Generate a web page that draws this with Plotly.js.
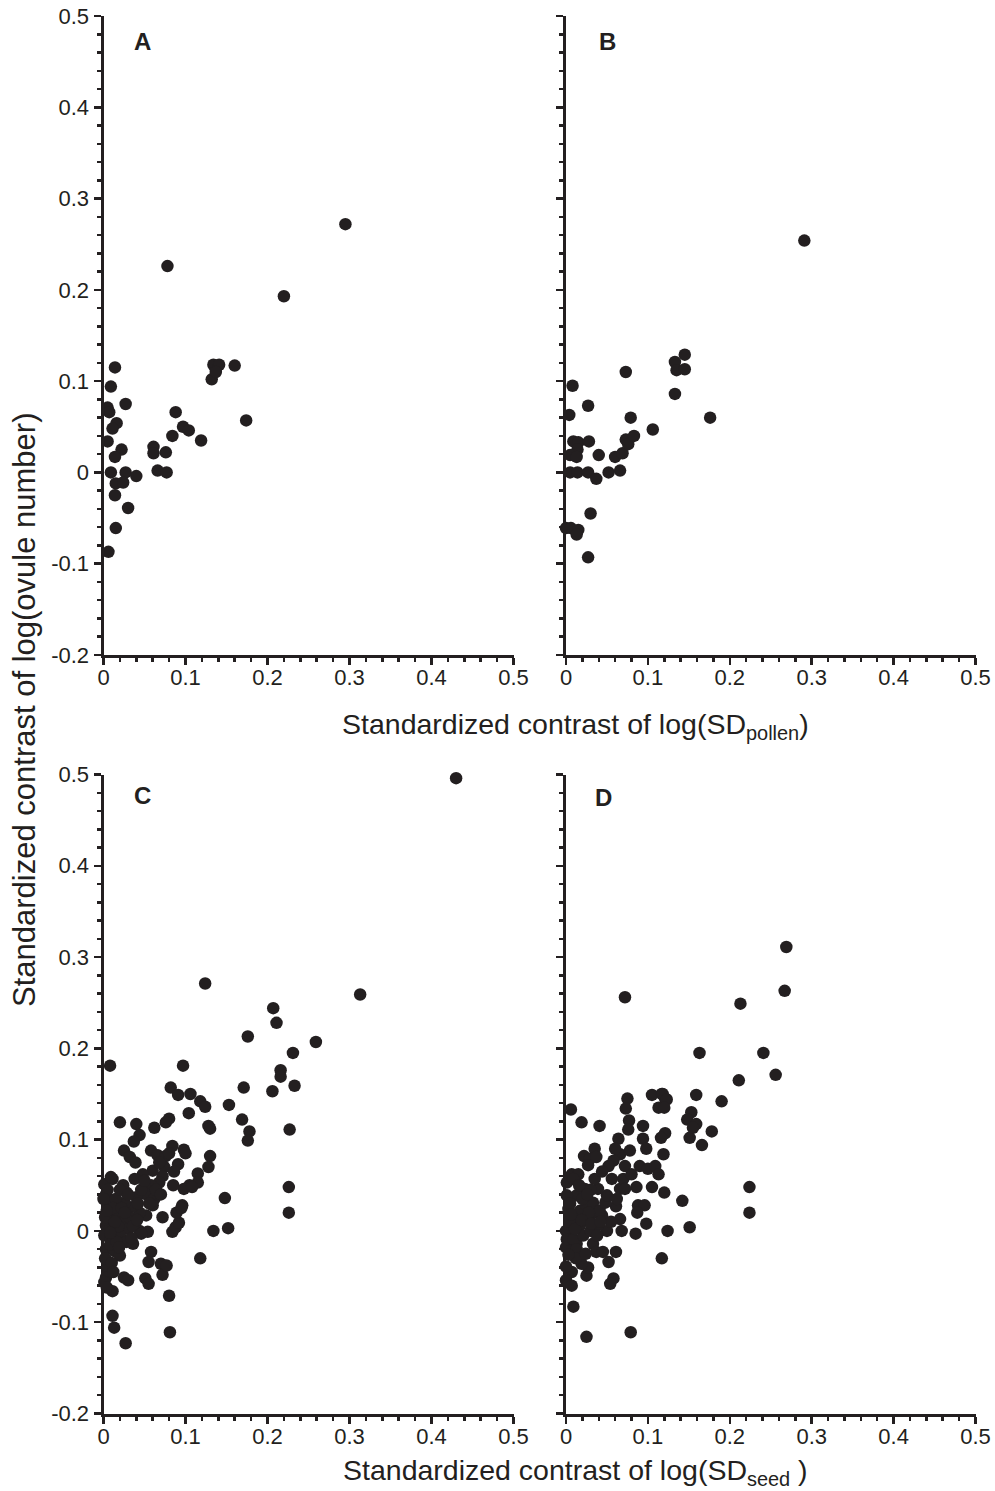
<!DOCTYPE html>
<html>
<head>
<meta charset="utf-8">
<script src="https://cdn.plot.ly/plotly-3.0.1.min.js"></script>
<style>html,body{margin:0;padding:0;background:#fff;}#chart{width:995px;height:1491px;}</style>
</head>
<body>
<div id="chart"></div>
<script>
// ---- Data ----
const panelLabels = ['A', 'B', 'C', 'D'];
const xTickVals = [0, 0.1, 0.2, 0.3, 0.4, 0.5];
const xTickText = ['0', '0.1', '0.2', '0.3', '0.4', '0.5'];
const yTickVals = [-0.2, -0.1, 0, 0.1, 0.2, 0.3, 0.4, 0.5];
const yTickText = ['-0.2', '-0.1', '0', '0.1', '0.2', '0.3', '0.4', '0.5'];
const yTitle = 'Standardized contrast of log(ovule number)';
const xTitleTop = 'Standardized contrast of log(SD<sub>pollen</sub>)';
const xTitleBottom = 'Standardized contrast of log(SD<sub>seed</sub> )';

const aX = [0.014,0.009,0.005,0.007,0.027,0.016,0.011,0.005,0.022,0.014,0.009,0.027,0.040,0.015,0.024,0.014,0.030,0.015,0.006,0.061,0.061,0.066,0.077,0.076,0.084,0.088,0.097,0.104,0.119,0.132,0.134,0.141,0.137,0.160,0.174,0.078,0.220,0.295];
const aY = [0.115,0.094,0.071,0.066,0.075,0.054,0.048,0.034,0.025,0.017,0.000,0.000,-0.004,-0.012,-0.011,-0.025,-0.039,-0.061,-0.087,0.028,0.021,0.002,0.000,0.022,0.040,0.066,0.050,0.046,0.035,0.102,0.118,0.118,0.110,0.117,0.057,0.226,0.193,0.272];

const bX = [0.008,0.027,0.004,0.073,0.079,0.009,0.015,0.028,0.014,0.005,0.013,0.040,0.005,0.014,0.027,0.037,0.052,0.066,0.060,0.069,0.073,0.076,0.083,0.106,0.133,0.133,0.135,0.145,0.145,0.176,0.030,0.000,0.006,0.015,0.013,0.027,0.291];
const bY = [0.095,0.073,0.063,0.110,0.060,0.034,0.033,0.034,0.025,0.019,0.017,0.019,0.000,0.000,0.000,-0.007,0.000,0.002,0.017,0.021,0.036,0.031,0.040,0.047,0.086,0.121,0.112,0.113,0.129,0.060,-0.045,-0.061,-0.061,-0.063,-0.068,-0.093,0.254];

const cX = [0.430,0.313,0.124,0.207,0.211,0.176,0.259,0.231,0.008,0.097,0.216,0.216,0.171,0.233,0.206,0.082,0.091,0.106,0.118,0.124,0.153,0.104,0.169,0.178,0.176,0.227,0.128,0.130,0.080,0.076,0.062,0.040,0.020,0.044,0.037,0.025,0.032,0.039,0.058,0.066,0.084,0.098,0.076,0.091,0.130,0.128,0.115,0.115,0.105,0.098,0.085,0.074,0.072,0.068,0.060,0.048,0.038,0.058,0.052,0.062,0.060,0.052,0.044,0.034,0.026,0.040,0.028,0.024,0.011,0.001,0.003,0.005,0.011,0.017,0.007,0.003,0.013,0.024,0.030,0.001,0.009,0.020,0.028,0.036,0.003,0.013,0.020,0.044,0.054,0.072,0.084,0.088,0.092,0.089,0.096,0.134,0.152,0.148,0.226,0.226,0.118,0.058,0.055,0.070,0.072,0.051,0.055,0.025,0.030,0.005,0.003,0.001,0.011,0.080,0.011,0.013,0.027,0.081,0.009,
  0.005,0.010,0.015,0.020,0.018,0.008,0.002,0.012,0.032,0.036,0.042,0.046,0.050,0.016,0.006,0.002,0.022,0.030,0.064,0.068,0.080,0.086,0.100,0.000,0.004,0.108,0.095,0.077,0.046,0.010,
  0.014,0.026,0.034,0.008,0.019,0.004,0.041,0.056,0.070,0.012];
const cY = [0.496,0.259,0.271,0.244,0.228,0.213,0.207,0.195,0.181,0.181,0.176,0.169,0.157,0.159,0.153,0.157,0.149,0.150,0.142,0.136,0.138,0.129,0.122,0.109,0.099,0.111,0.115,0.112,0.123,0.119,0.113,0.117,0.119,0.105,0.098,0.088,0.081,0.075,0.088,0.083,0.093,0.089,0.082,0.073,0.082,0.070,0.063,0.053,0.050,0.046,0.050,0.070,0.060,0.053,0.066,0.062,0.057,0.050,0.040,0.035,0.028,0.017,0.020,0.026,0.031,0.037,0.042,0.050,0.057,0.051,0.040,0.028,0.022,0.017,0.013,0.006,0.004,0.010,0.002,-0.005,-0.009,-0.005,-0.012,-0.014,-0.020,-0.022,-0.027,0.000,-0.001,0.015,-0.001,0.004,0.009,0.020,0.028,0.000,0.003,0.036,0.048,0.020,-0.030,-0.023,-0.034,-0.036,-0.048,-0.052,-0.058,-0.051,-0.054,-0.040,-0.051,-0.056,-0.066,-0.071,-0.093,-0.106,-0.123,-0.111,0.059,
  0.045,0.030,0.035,0.045,0.005,-0.015,-0.030,0.025,0.015,0.005,0.030,0.045,0.055,-0.012,0.000,0.015,0.025,0.040,0.045,0.075,0.085,0.065,0.085,0.035,-0.062,0.048,0.025,-0.038,-0.003,-0.035,
  0.010,0.020,-0.008,-0.002,-0.018,0.022,0.012,0.030,0.040,-0.045];

const dX = [0.269,0.267,0.072,0.213,0.163,0.241,0.211,0.256,0.075,0.105,0.117,0.121,0.159,0.190,0.073,0.118,0.123,0.113,0.120,0.006,0.019,0.041,0.077,0.076,0.094,0.064,0.094,0.121,0.116,0.153,0.148,0.159,0.151,0.155,0.178,0.166,0.098,0.119,0.035,0.022,0.029,0.037,0.027,0.066,0.078,0.058,0.052,0.072,0.090,0.100,0.109,0.113,0.105,0.120,0.142,0.151,0.224,0.224,0.124,0.117,0.098,0.085,0.068,0.066,0.088,0.096,0.087,0.061,0.066,0.086,0.070,0.056,0.061,0.052,0.058,0.054,0.025,0.027,0.019,0.007,0.000,0.007,0.009,0.025,0.079,0.000,0.000,0.013,0.033,0.037,0.045,0.050,0.039,0.044,0.035,0.029,0.017,0.007,0.000,0.009,0.003,0.017,0.025,0.033,0.041,0.048,0.050,0.039,0.035,0.023,0.013,0.001,0.001,0.007,0.015,0.009,0.001,0.009,0.021,0.013,0.072,0.062,
  0.005,0.020,0.028,0.012,0.004,0.030,0.024,0.016,0.044,0.060,0.080,0.055,0.003,0.038,0.030,
  0.011,0.019,0.031,0.042,0.026,0.006];
const dY = [0.311,0.263,0.256,0.249,0.195,0.195,0.165,0.171,0.145,0.149,0.150,0.145,0.149,0.142,0.134,0.150,0.144,0.135,0.135,0.133,0.119,0.115,0.121,0.111,0.115,0.101,0.101,0.107,0.102,0.130,0.122,0.117,0.102,0.113,0.109,0.094,0.090,0.084,0.090,0.082,0.079,0.081,0.072,0.084,0.088,0.077,0.071,0.071,0.071,0.068,0.071,0.062,0.048,0.042,0.033,0.004,0.048,0.020,0.000,-0.030,0.008,-0.003,0.000,0.013,0.028,0.028,0.020,0.027,0.046,0.048,0.057,0.057,-0.023,-0.034,-0.052,-0.058,-0.049,-0.040,-0.036,-0.045,-0.054,-0.060,-0.083,-0.116,-0.111,-0.039,-0.018,-0.014,-0.014,-0.023,-0.023,0.000,0.006,0.017,0.020,0.011,0.006,0.000,0.000,0.013,0.024,0.022,0.028,0.031,0.022,0.031,0.039,0.046,0.057,0.046,0.039,0.039,0.053,0.062,0.062,0.057,-0.009,-0.009,-0.005,-0.020,0.046,0.035,
  0.030,0.035,0.020,-0.030,0.010,0.000,-0.025,0.050,0.065,0.090,0.062,0.010,-0.026,-0.005,0.045,
  0.002,0.012,0.008,0.010,0.040,0.018];

// ---- Layout geometry ----
const W = 995, H = 1491;
const ink = '#231f20';
const font = 'Liberation Sans, Arial, Helvetica, sans-serif';
const px = v => v / W;
const py = v => 1 - v / H;

const xDomLeft = [px(103.5), px(513.5)];
const xDomRight = [px(566), px(975.5)];
const yDomTop = [py(655), py(16)];
const yDomBot = [py(1413.5), py(774.5)];

function xAxis(domain, anchor) {
  return {
    domain: domain, anchor: anchor, range: [0, 0.5], fixedrange: true,
    showline: true, linecolor: ink, linewidth: 3, mirror: false,
    showgrid: false, zeroline: false,
    ticks: 'outside', ticklen: 7, tickwidth: 2.5, tickcolor: ink,
    tickmode: 'array', tickvals: xTickVals, ticktext: xTickText,
    ticklabelstandoff: -6,
    tickfont: {family: font, size: 22, color: ink},
    minor: {ticks: 'outside', tick0: 0, dtick: 0.02, ticklen: 4, tickwidth: 2.5, tickcolor: ink, showgrid: false}
  };
}
function yAxis(domain, anchor, labels) {
  return {
    domain: domain, anchor: anchor, range: [-0.2, 0.5], fixedrange: true,
    showline: true, linecolor: ink, linewidth: 3, mirror: false,
    showgrid: false, zeroline: false,
    ticks: 'outside', ticklen: 7, tickwidth: 2.5, tickcolor: ink,
    tickmode: 'array', tickvals: yTickVals, ticktext: yTickText,
    showticklabels: labels,
    tickfont: {family: font, size: 22, color: ink},
    minor: {ticks: 'outside', tick0: 0, dtick: 0.02, ticklen: 4, tickwidth: 2.5, tickcolor: ink, showgrid: false}
  };
}

const series = [[aX, aY], [bX, bY], [cX, cY], [dX, dY]];
const traces = series.map((s, i) => ({
  type: 'scatter', mode: 'markers',
  x: s[0], y: s[1],
  xaxis: i === 0 ? 'x' : 'x' + (i + 1),
  yaxis: i === 0 ? 'y' : 'y' + (i + 1),
  cliponaxis: false,
  marker: {size: 12.5, color: ink, line: {width: 0}},
  hoverinfo: 'skip', showlegend: false
}));

const letterPos = [[142, 41], [607, 41], [142, 795], [603, 797]];
const annotations = panelLabels.map((t, i) => ({
  xref: 'paper', yref: 'paper', x: px(letterPos[i][0]), y: py(letterPos[i][1]),
  xanchor: 'center', yanchor: 'middle', showarrow: false,
  text: '<b>' + t + '</b>', font: {family: font, size: 24, color: ink}
}));
annotations.push({
  xref: 'paper', yref: 'paper', x: px(575), y: py(726), xanchor: 'center', yanchor: 'middle',
  showarrow: false, text: xTitleTop, font: {family: font, size: 28.5, color: ink}
});
annotations.push({
  xref: 'paper', yref: 'paper', x: px(575), y: py(1472), xanchor: 'center', yanchor: 'middle',
  showarrow: false, text: xTitleBottom, font: {family: font, size: 28.5, color: ink}
});
annotations.push({
  xref: 'paper', yref: 'paper', x: px(24), y: py(710), xanchor: 'center', yanchor: 'middle',
  showarrow: false, textangle: -90, text: yTitle, font: {family: font, size: 31, color: ink}
});

const layout = {
  width: W, height: H, autosize: false,
  margin: {l: 0, r: 0, t: 0, b: 0, pad: 0},
  paper_bgcolor: '#ffffff', plot_bgcolor: 'rgba(0,0,0,0)',
  showlegend: false,
  xaxis: xAxis(xDomLeft, 'y'),
  yaxis: yAxis(yDomTop, 'x', true),
  xaxis2: xAxis(xDomRight, 'y2'),
  yaxis2: yAxis(yDomTop, 'x2', false),
  xaxis3: xAxis(xDomLeft, 'y3'),
  yaxis3: yAxis(yDomBot, 'x3', true),
  xaxis4: xAxis(xDomRight, 'y4'),
  yaxis4: yAxis(yDomBot, 'x4', false),
  annotations: annotations
};

Plotly.newPlot('chart', traces, layout, {displayModeBar: false, staticPlot: true});
</script>
</body>
</html>
